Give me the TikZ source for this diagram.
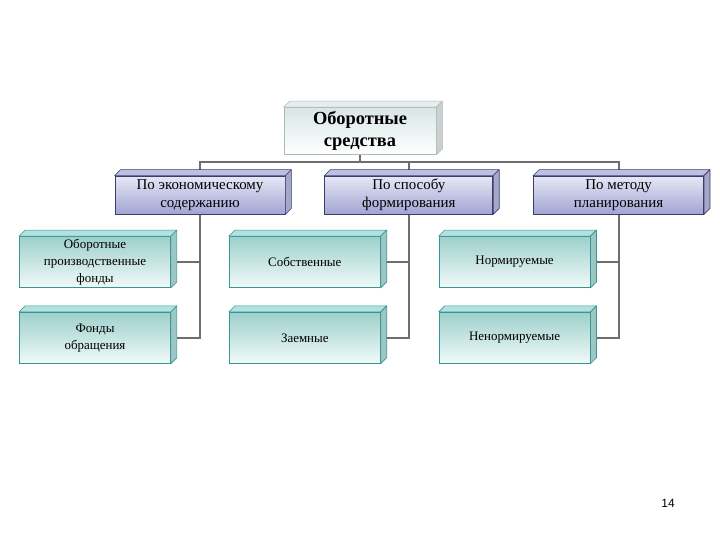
\documentclass[tikz,border=0pt]{standalone}
\usepackage{fontspec}
\setmainfont{Liberation Serif}
\newfontfamily\numfont{Liberation Sans}
\usetikzlibrary{positioning, backgrounds, calc}

\definecolor{lavtop}{HTML}{E6E8F6}
\definecolor{lavbot}{HTML}{A2A4D2}
\definecolor{lavside}{HTML}{BDBFE4}
\definecolor{lavline}{HTML}{3C3E6A}
\definecolor{tealtop}{HTML}{9ED0CC}
\definecolor{tealbot}{HTML}{F0FAF8}
\definecolor{tealside}{HTML}{B2E2E0}
\definecolor{tealline}{HTML}{3A9494}
\definecolor{palefront}{HTML}{D8E6E6}
\definecolor{paleside}{HTML}{E6EEEE}
\definecolor{paleline}{HTML}{B0B8B8}
\definecolor{linegrey}{HTML}{6E6E6E}

\begin{document}
\begin{tikzpicture}[
    x=1bp, y=1bp,
    % estilos de nodos
    base/.style = {rectangle, thick, align=center, inner sep=1pt},
    raiz/.style = {base, draw=paleline, top color=palefront, bottom color=white,
                   minimum width=152bp, minimum height=47bp, font=\fontsize{18.5}{22.5}\selectfont\bfseries},
    criterio/.style = {base, draw=lavline, top color=lavtop, bottom color=lavbot,
                   minimum width=170bp, minimum height=38bp, font=\fontsize{15}{18}\selectfont},
    hoja/.style = {base, draw=tealline, top color=tealtop, bottom color=tealbot,
                   minimum width=151bp, minimum height=51bp, font=\fontsize{13}{17}\selectfont},
    linia/.style = {draw=linegrey, line width=2bp},
    cara/.style = {line width=0.6bp, line join=round}
]
\useasboundingbox (0,0) rectangle (720,540);

% ===============================
% 1. Nodos
% ===============================
\node (raiz) [raiz] at (360,409) {Оборотные\\ средства};

\node (ekon) [criterio] at (200,345) {По экономическому\\ содержанию};
\node (sposob) [criterio, right=39bp of ekon, minimum width=168bp] {По способу\\ формирования};
\node (metod) [criterio, right=40bp of sposob] {По методу\\ планирования};

\node (opf) [hoja] at (95,278) {Оборотные\\ производственные\\ фонды};
\node (fo) [hoja, below=24bp of opf] {Фонды\\ обращения};
\node (sobst) [hoja, right=58bp of opf] {Собственные};
\node (zaem) [hoja, below=24bp of sobst] {Заемные};
\node (norm) [hoja, right=58bp of sobst] {Нормируемые};
\node (nenorm) [hoja, below=24bp of norm] {Ненормируемые};

% ===============================
% 2. Caras 3D (arriba y derecha)
% ===============================
\foreach \n/\cf/\cl in {raiz/paleside/paleline,
                        ekon/lavside/lavline, sposob/lavside/lavline, metod/lavside/lavline,
                        opf/tealside/tealline, fo/tealside/tealline, sobst/tealside/tealline,
                        zaem/tealside/tealline, norm/tealside/tealline, nenorm/tealside/tealline}{
    \filldraw [cara, fill=\cf, draw=\cl] (\n.north west) -- ++(6,6) -- ($(\n.north east)+(6,6)$)
        -- (\n.north east) -- cycle;
    \filldraw [cara, fill=\cf!88!black, draw=\cl] (\n.north east) -- ++(6,6) -- ($(\n.south east)+(6,6)$)
        -- (\n.south east) -- cycle;
}

% ===============================
% 3. Conexiones
% ===============================
\begin{scope}[on background layer]
    \draw [linia] (ekon.north) -- ++(0,14) -| (raiz.south);
    \draw [linia] (sposob.north) -- ++(0,14) -| (raiz.south);
    \draw [linia] (metod.north) -- ++(0,14) -| (raiz.south);

    \draw [linia] (ekon.south) |- (opf.east);
    \draw [linia] (ekon.south) |- (fo.east);
    \draw [linia] (sposob.south) |- (sobst.east);
    \draw [linia] (sposob.south) |- (zaem.east);
    \draw [linia] (metod.south) |- (norm.east);
    \draw [linia] (metod.south) |- (nenorm.east);
\end{scope}

\node (pagina) [font=\numfont\fontsize{12}{14}\selectfont] at (668,37) {14};

\end{tikzpicture}
\end{document}
